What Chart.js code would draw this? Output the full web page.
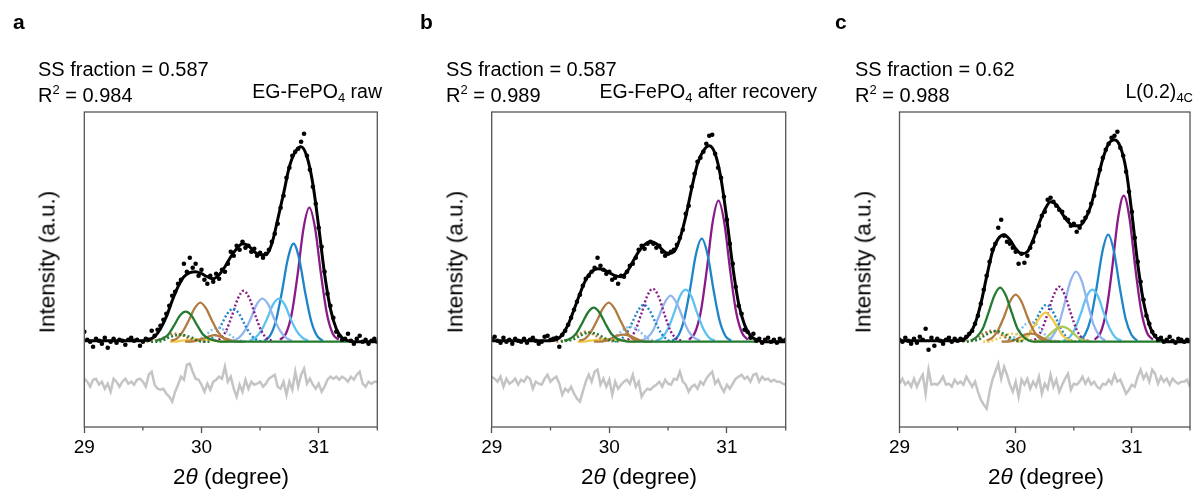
<!DOCTYPE html>
<html><head><meta charset="utf-8">
<script src="https://cdn.jsdelivr.net/npm/chart.js@4.4.0/dist/chart.umd.min.js"></script>
<style>
body{margin:0;width:1194px;height:495px;position:relative;overflow:hidden;background:#fff;font-family:Arial,"Liberation Sans",sans-serif;color:#000}
canvas{position:absolute;top:0}
.t{position:absolute;white-space:nowrap;font-size:20px;line-height:20px}
.lbl{position:absolute;white-space:nowrap;font-size:19.5px;line-height:20px;text-align:right}
.let{position:absolute;font-size:21px;line-height:20px;font-weight:bold}
.sup{font-size:13px;position:relative;top:-8px}
.sub{font-size:13px;position:relative;top:4px}
.yt{position:absolute;white-space:nowrap;font-size:22.5px;line-height:23px;transform:translate(-50%,-50%) rotate(-90deg)}
.xt{position:absolute;white-space:nowrap;font-size:22.5px;line-height:23px;transform:translateX(-50%)}
</style></head><body>
<canvas id="ca" width="400" height="495" style="left:0px"></canvas>
<canvas id="cb" width="410" height="495" style="left:400px"></canvas>
<canvas id="cc" width="384" height="495" style="left:810px"></canvas>

<div class="let" style="left:13px;top:12px">a</div>
<div class="let" style="left:420px;top:12px">b</div>
<div class="let" style="left:835px;top:12px">c</div>

<div class="t" style="left:38px;top:59px">SS fraction = 0.587</div>
<div class="t" style="left:38px;top:85px">R<span class="sup">2</span> = 0.984</div>
<div class="lbl" style="right:812px;top:81px">EG-FePO<span class="sub">4</span> raw</div>

<div class="t" style="left:446px;top:59px">SS fraction = 0.587</div>
<div class="t" style="left:446px;top:85px">R<span class="sup">2</span> = 0.989</div>
<div class="lbl" style="right:377px;top:81px">EG-FePO<span class="sub">4</span> after recovery</div>

<div class="t" style="left:855px;top:59px">SS fraction = 0.62</div>
<div class="t" style="left:855px;top:85px">R<span class="sup">2</span> = 0.988</div>
<div class="lbl" style="right:1px;top:81px">L(0.2)<span class="sub">4C</span></div>

<div class="yt" style="left:47px;top:262px">Intensity (a.u.)</div>
<div class="yt" style="left:455px;top:262px">Intensity (a.u.)</div>
<div class="yt" style="left:863px;top:262px">Intensity (a.u.)</div>

<div class="xt" style="left:231px;top:465px">2<i>θ</i> (degree)</div>
<div class="xt" style="left:639px;top:465px">2<i>θ</i> (degree)</div>
<div class="xt" style="left:1046px;top:465px">2<i>θ</i> (degree)</div>

<script>
// ---------- axis ----------
const xMin = 29, xMax = 31.5;
const yMin = -0.853, yMax = 2.297;
const xTicks = [29, 30, 31];
const xMinorTicks = [29.5, 30.5, 31.5];
const dotStep = 0.025, fitStep = 0.05, compStep = 0.05;

// ---------- panel a ----------
const aDots = [0.10,0.02,0.00,-0.05,0.03,0.01,-0.02,0.04,-0.06,0.00,
 0.03,-0.01,0.02,0.01,-0.03,0.02,0.04,0.01,0.02,-0.04,
 0.00,0.03,0.02,0.11,0.06,0.12,0.16,0.22,0.28,0.36,
 0.46,0.50,0.58,0.62,0.78,0.70,0.84,0.74,0.78,0.66,
 0.72,0.62,0.58,0.66,0.60,0.68,0.63,0.72,0.70,0.78,
 0.90,0.86,0.96,0.92,1.00,0.94,0.96,0.90,0.93,0.86,
 0.89,0.84,0.88,0.92,1.00,1.08,1.18,1.34,1.46,1.64,
 1.74,1.86,1.90,1.93,2.00,2.08,1.86,1.72,1.55,1.38,
 1.14,0.95,0.70,0.48,0.36,0.24,0.10,0.06,0.02,0.03,
 0.08,0.01,-0.02,0.03,0.06,0.00,0.02,-0.02,0.01,0.03,0.00];
const aFit = [0.01,0.01,0.01,0.01,0.01,0.01,0.01,0.01,0.01,0.01,
 0.01,0.02,0.05,0.13,0.25,0.41,0.55,0.65,0.69,0.70,
 0.68,0.65,0.63,0.67,0.75,0.85,0.93,0.98,0.96,0.90,
 0.87,0.87,0.98,1.22,1.48,1.75,1.90,1.95,1.85,1.58,
 1.15,0.68,0.33,0.13,0.04,0.01,0.00,0.00,0.00,0.00,0.00];
const aResid = [-0.37,-0.40,-0.45,-0.38,-0.37,-0.43,-0.40,-0.47,-0.42,-0.50,
 -0.37,-0.40,-0.45,-0.40,-0.37,-0.42,-0.40,-0.43,-0.38,-0.37,
 -0.40,-0.45,-0.33,-0.30,-0.43,-0.47,-0.48,-0.47,-0.52,-0.55,
 -0.60,-0.50,-0.43,-0.35,-0.38,-0.23,-0.22,-0.30,-0.37,-0.38,
 -0.43,-0.50,-0.42,-0.48,-0.40,-0.38,-0.35,-0.37,-0.25,-0.40,
 -0.35,-0.47,-0.55,-0.43,-0.50,-0.38,-0.47,-0.40,-0.43,-0.42,
 -0.40,-0.45,-0.42,-0.37,-0.35,-0.33,-0.45,-0.47,-0.40,-0.53,
 -0.40,-0.48,-0.30,-0.45,-0.33,-0.27,-0.42,-0.37,-0.43,-0.47,
 -0.42,-0.50,-0.45,-0.38,-0.35,-0.37,-0.35,-0.38,-0.35,-0.37,
 -0.40,-0.35,-0.38,-0.33,-0.30,-0.42,-0.45,-0.40,-0.42,-0.40,-0.40];
// components: [start 2θ, values every 0.05°]
const aPurple    = [30.67,  [0.02,0.08,0.28,0.67,1.13,1.34,1.13,0.67,0.28,0.08,0.02]];
const aBlue      = [30.535, [0.01,0.06,0.21,0.49,0.82,0.98,0.82,0.49,0.21,0.06,0.01]];
const aSky       = [30.41,  [0.01,0.04,0.11,0.23,0.37,0.43,0.37,0.23,0.11,0.04,0.01]];
const aLav       = [30.27,  [0.01,0.04,0.11,0.23,0.37,0.43,0.37,0.23,0.11,0.04,0.01]];
const aPurpleDot = [30.11,  [0.01,0.03,0.11,0.26,0.43,0.51,0.43,0.26,0.11,0.03,0.01]];
const aBlueDot   = [30.02,  [0.00,0.02,0.07,0.17,0.28,0.33,0.28,0.17,0.07,0.02,0.00]];
const aSkyDot    = [29.89,  [0.00,0.01,0.03,0.07,0.12,0.14,0.12,0.07,0.03,0.01,0.00]];
const aBrown     = [29.74,  [0.01,0.03,0.10,0.21,0.33,0.39,0.33,0.21,0.10,0.03,0.01]];
const aBrownSm   = [29.86,  [0.00,0.00,0.01,0.03,0.05,0.065,0.05,0.03,0.01,0.00,0.00]];
const aBrownDot  = [29.53,  [0.00,0.01,0.02,0.04,0.07,0.08,0.07,0.04,0.02,0.01,0.00]];
const aGreenDot  = [29.57,  [0.00,0.00,0.01,0.04,0.06,0.07,0.06,0.04,0.01,0.00,0.00]];
const aGold      = [29.73,  [0.00,0.00,0.01,0.015,0.02,0.025,0.02,0.015,0.01,0.00,0.00]];
const aGreen     = [29.615, [0.01,0.03,0.07,0.16,0.26,0.30,0.26,0.16,0.07,0.03,0.01,
 0,0,0,0,0,0,0,0,0,0,0,0,0,0,0,0,0,0,0,0,0,0,0]];

// ---------- panel b ----------
const bDots = [0.03,0.05,0.01,-0.01,0.04,0.00,0.02,-0.02,0.03,0.01,
 0.00,0.03,-0.01,0.02,0.04,0.01,-0.02,0.00,0.05,0.06,
 0.02,0.03,0.04,-0.05,0.07,0.11,0.17,0.24,0.32,0.40,
 0.47,0.56,0.63,0.66,0.70,0.74,0.84,0.76,0.72,0.68,
 0.70,0.62,0.64,0.58,0.66,0.65,0.70,0.76,0.78,0.84,
 0.92,0.96,0.93,0.98,1.00,0.98,0.94,0.96,0.90,0.86,
 0.88,0.90,0.92,0.97,1.04,1.12,1.28,1.36,1.55,1.68,
 1.80,1.84,1.90,1.98,2.06,2.07,1.88,1.74,1.64,1.45,
 1.22,0.98,0.78,0.55,0.36,0.28,0.12,0.10,0.04,0.08,
 0.01,0.03,-0.01,0.02,0.04,0.00,0.02,-0.01,0.03,0.01,0.02];
const bFit = [0.01,0.01,0.01,0.01,0.01,0.01,0.01,0.01,0.01,0.01,
 0.01,0.02,0.07,0.17,0.32,0.48,0.62,0.70,0.73,0.72,
 0.69,0.66,0.65,0.70,0.80,0.90,0.97,1.00,0.98,0.92,
 0.88,0.90,1.03,1.25,1.53,1.78,1.91,1.96,1.88,1.63,
 1.22,0.75,0.38,0.17,0.06,0.02,0.00,0.00,0.00,0.00,0.00];
const bResid = [-0.35,-0.37,-0.40,-0.35,-0.45,-0.37,-0.42,-0.40,-0.37,-0.43,
 -0.38,-0.40,-0.35,-0.37,-0.47,-0.40,-0.42,-0.43,-0.37,-0.33,
 -0.40,-0.37,-0.35,-0.42,-0.53,-0.47,-0.50,-0.45,-0.52,-0.57,
 -0.60,-0.50,-0.40,-0.33,-0.40,-0.30,-0.28,-0.43,-0.37,-0.45,
 -0.38,-0.53,-0.40,-0.47,-0.43,-0.40,-0.38,-0.42,-0.33,-0.45,
 -0.40,-0.55,-0.50,-0.47,-0.48,-0.45,-0.43,-0.40,-0.45,-0.38,
 -0.42,-0.43,-0.37,-0.38,-0.30,-0.40,-0.43,-0.50,-0.45,-0.43,
 -0.47,-0.40,-0.43,-0.37,-0.33,-0.30,-0.42,-0.38,-0.45,-0.50,
 -0.43,-0.47,-0.42,-0.37,-0.35,-0.33,-0.37,-0.35,-0.40,-0.33,
 -0.32,-0.40,-0.35,-0.38,-0.37,-0.40,-0.38,-0.40,-0.40,-0.42,-0.43];
const bPurple    = [30.678, [0.02,0.09,0.30,0.71,1.19,1.41,1.19,0.71,0.30,0.09,0.02]];
const bBlue      = [30.536, [0.01,0.06,0.22,0.52,0.87,1.03,0.87,0.52,0.22,0.06,0.01]];
const bSky       = [30.399, [0.01,0.04,0.13,0.28,0.45,0.52,0.45,0.28,0.13,0.04,0.01]];
const bLav       = [30.271, [0.01,0.04,0.11,0.25,0.39,0.46,0.39,0.25,0.11,0.04,0.01]];
const bPurpleDot = [30.12,  [0.01,0.03,0.11,0.27,0.45,0.53,0.45,0.27,0.11,0.03,0.01]];
const bBlueDot   = [30.044, [0.00,0.02,0.08,0.19,0.31,0.37,0.31,0.19,0.08,0.02,0.00]];
const bSkyDot    = [29.93,  [0.00,0.01,0.03,0.08,0.13,0.15,0.13,0.08,0.03,0.01,0.00]];
const bBrown     = [29.745, [0.01,0.03,0.10,0.21,0.33,0.39,0.33,0.21,0.10,0.03,0.01]];
const bBrownSm   = [29.87,  [0.00,0.00,0.01,0.035,0.06,0.07,0.06,0.035,0.01,0.00,0.00]];
const bBrownDot  = [29.55,  [0.00,0.01,0.02,0.05,0.08,0.10,0.08,0.05,0.02,0.01,0.00]];
const bGreenDot  = [29.59,  [0.00,0.01,0.02,0.05,0.08,0.09,0.08,0.05,0.02,0.01,0.00]];
const bGold      = [29.73,  [0.00,0.00,0.01,0.015,0.02,0.025,0.02,0.015,0.01,0.00,0.00]];
const bGreen     = [29.617, [0.01,0.03,0.08,0.18,0.29,0.34,0.29,0.18,0.08,0.03,0.01,
 0,0,0,0,0,0,0,0,0,0,0,0,0,0,0,0,0,0,0,0,0,0,0]];

// ---------- panel c ----------
const cDots = [0.02,0.00,0.04,0.01,-0.02,0.03,-0.01,0.05,0.02,0.13,
 -0.08,0.04,-0.04,0.03,0.01,-0.02,0.02,0.04,0.00,0.03,
 0.01,0.03,0.02,0.05,0.08,0.11,0.18,0.26,0.38,0.52,
 0.66,0.80,0.92,0.98,1.14,1.22,1.06,1.00,0.98,0.94,
 0.90,0.78,0.88,0.79,0.86,0.94,1.00,1.10,1.16,1.26,
 1.30,1.42,1.44,1.40,1.36,1.32,1.30,1.24,1.22,1.16,
 1.18,1.10,1.14,1.20,1.24,1.30,1.38,1.46,1.58,1.72,
 1.84,1.92,1.98,2.04,2.06,2.10,1.94,1.86,1.70,1.50,
 1.30,1.04,0.80,0.60,0.42,0.26,0.18,0.10,0.06,0.02,
 0.04,0.00,0.02,0.05,0.01,-0.01,0.03,0.02,0.00,0.02,0.01];
const cFit = [0.01,0.01,0.01,0.01,0.01,0.01,0.01,0.01,0.01,0.01,
 0.01,0.02,0.07,0.18,0.38,0.65,0.90,1.03,1.07,1.02,
 0.93,0.88,0.90,1.02,1.18,1.32,1.40,1.37,1.28,1.20,
 1.16,1.16,1.23,1.37,1.60,1.83,1.98,2.02,1.95,1.72,
 1.28,0.78,0.40,0.17,0.05,0.02,0.00,0.00,0.00,0.00,0.00];
const cResid = [-0.42,-0.37,-0.43,-0.40,-0.45,-0.37,-0.45,-0.38,-0.33,-0.52,
 -0.28,-0.43,-0.42,-0.43,-0.40,-0.35,-0.43,-0.42,-0.45,-0.38,
 -0.42,-0.40,-0.43,-0.35,-0.40,-0.45,-0.40,-0.50,-0.58,-0.63,
 -0.67,-0.50,-0.38,-0.30,-0.22,-0.37,-0.25,-0.33,-0.43,-0.50,
 -0.40,-0.55,-0.38,-0.43,-0.37,-0.47,-0.40,-0.45,-0.35,-0.52,
 -0.42,-0.47,-0.33,-0.45,-0.38,-0.50,-0.43,-0.37,-0.32,-0.48,
 -0.42,-0.43,-0.40,-0.35,-0.42,-0.37,-0.43,-0.40,-0.45,-0.47,
 -0.42,-0.43,-0.38,-0.42,-0.33,-0.40,-0.38,-0.45,-0.52,-0.48,
 -0.43,-0.45,-0.35,-0.28,-0.37,-0.32,-0.40,-0.28,-0.32,-0.42,
 -0.35,-0.40,-0.37,-0.43,-0.37,-0.40,-0.42,-0.40,-0.40,-0.38,-0.45];
const cPurple    = [30.68,  [0.02,0.09,0.31,0.73,1.23,1.46,1.23,0.73,0.31,0.09,0.02]];
const cBlue      = [30.546, [0.01,0.07,0.23,0.54,0.90,1.07,0.90,0.54,0.23,0.07,0.01]];
const cSky       = [30.41,  [0.01,0.04,0.13,0.28,0.45,0.52,0.45,0.28,0.13,0.04,0.01]];
const cLav       = [30.27,  [0.01,0.06,0.17,0.38,0.60,0.70,0.60,0.38,0.17,0.06,0.01]];
const cPurpleDot = [30.125, [0.01,0.03,0.12,0.28,0.46,0.55,0.46,0.28,0.12,0.03,0.01]];
const cBlueDot   = [30.015, [0.00,0.02,0.08,0.19,0.31,0.37,0.31,0.19,0.08,0.02,0.00]];
const cGoldPk    = [30.006, [0.00,0.02,0.06,0.15,0.24,0.29,0.24,0.15,0.06,0.02,0.00]];
const cLime      = [30.15,  [0.00,0.01,0.03,0.08,0.13,0.15,0.13,0.08,0.03,0.01,0.00]];
const cSkyDot    = [29.88,  [0.00,0.01,0.04,0.10,0.17,0.20,0.17,0.10,0.04,0.01,0.00]];
const cBrown     = [29.75,  [0.01,0.04,0.12,0.25,0.40,0.47,0.40,0.25,0.12,0.04,0.01]];
const cBrownSm   = [29.88,  [0.00,0.00,0.01,0.04,0.07,0.08,0.07,0.04,0.01,0.00,0.00]];
const cBrownDot  = [29.54,  [0.00,0.01,0.02,0.06,0.09,0.11,0.09,0.06,0.02,0.01,0.00]];
const cGreenDot  = [29.58,  [0.00,0.01,0.02,0.06,0.09,0.11,0.09,0.06,0.02,0.01,0.00]];
const cGoldDot   = [29.72,  [0.00,0.00,0.02,0.04,0.07,0.08,0.07,0.04,0.02,0.00,0.00]];
const cGreen     = [29.616, [0.01,0.05,0.13,0.29,0.46,0.54,0.46,0.29,0.13,0.05,0.01,
 0,0,0,0,0,0,0,0,0,0,0,0,0,0,0,0,0,0,0,0,0,0,0]];

// ---------- styles ----------
const compStyle = {
  purple:['#8b1a89',false], purpleDot:['#8b1a89',true],
  blue:['#1d85c8',false], blueDot:['#1d85c8',true],
  sky:['#5cc2f0',false], skyDot:['#80bff0',true],
  lav:['#93b5ee',false],
  brown:['#b27b40',false], brownDot:['#b27b40',true],
  green:['#237a30',false], greenDot:['#237a30',true],
  gold:['#f4c84a',false], goldDot:['#f4c84a',true],
  lime:['#a9c953',false]
};

const aComps = [['green',aGreen],['greenDot',aGreenDot],['brownDot',aBrownDot],['brown',aBrown],['brown',aBrownSm],['gold',aGold],
  ['skyDot',aSkyDot],['blueDot',aBlueDot],['purpleDot',aPurpleDot],['lav',aLav],['sky',aSky],['blue',aBlue],['purple',aPurple]];
const bComps = [['green',bGreen],['greenDot',bGreenDot],['brownDot',bBrownDot],['brown',bBrown],['brown',bBrownSm],['gold',bGold],
  ['skyDot',bSkyDot],['blueDot',bBlueDot],['purpleDot',bPurpleDot],['lav',bLav],['sky',bSky],['blue',bBlue],['purple',bPurple]];
const cComps = [['green',cGreen],['greenDot',cGreenDot],['brownDot',cBrownDot],['goldDot',cGoldDot],['brown',cBrown],['brown',cBrownSm],
  ['lime',cLime],['gold',cGoldPk],['skyDot',cSkyDot],['blueDot',cBlueDot],['purpleDot',cPurpleDot],['lav',cLav],['sky',cSky],['blue',cBlue],['purple',cPurple]];

function seq(start, step, vals){ return vals.map((v,i)=>({x:+(start+i*step).toFixed(4), y:v})); }

const framePlugin = {
  id:'frame',
  afterDraw(chart){
    const {ctx, chartArea:a, scales:{x}} = chart;
    ctx.save();
    ctx.strokeStyle = '#555'; ctx.lineWidth = 1.3;
    ctx.strokeRect(a.left, a.top, a.right-a.left, a.bottom-a.top);
    xMinorTicks.forEach(v=>{
      const px = x.getPixelForValue(v);
      ctx.beginPath(); ctx.moveTo(px, a.bottom); ctx.lineTo(px, a.bottom+3.5); ctx.stroke();
    });
    ctx.restore();
  }
};

function makeChart(id, padL, padR, dots, fit, resid, comps){
  const ds = [];
  ds.push({type:'scatter', data:seq(xMin, dotStep, dots), showLine:false, pointRadius:2.3, pointBackgroundColor:'#000', pointBorderWidth:0});
  ds.push({type:'line', data:seq(xMin, fitStep, fit), borderColor:'#000', borderWidth:3, pointRadius:0, cubicInterpolationMode:'monotone'});
  comps.forEach(([key, c])=>{
    const [col, dotted] = compStyle[key];
    ds.push({type:'line', data:seq(c[0], compStep, c[1]), borderColor:col, borderWidth:dotted?2.4:2.3,
      borderDash: dotted?[2,2.2]:[], pointRadius:0, cubicInterpolationMode:'monotone'});
  });
  ds.push({type:'line', data:seq(xMin, dotStep, resid), borderColor:'#c4c4c4', borderWidth:2.5, pointRadius:0, tension:0});
  return new Chart(document.getElementById(id), {
    type:'scatter',
    data:{datasets:ds},
    options:{
      responsive:false, animation:false, devicePixelRatio:1,
      layout:{padding:{left:padL, right:padR, top:112, bottom:0}},
      plugins:{legend:{display:false}, tooltip:{enabled:false}},
      scales:{
        x:{type:'linear', min:xMin, max:xMax,
          afterBuildTicks:s=>{ s.ticks = xTicks.map(v=>({value:v})); },
          afterFit:s=>{ s.height = 68; },
          ticks:{color:'#000', font:{family:'Arial, "Liberation Sans", sans-serif', size:19}, padding:3, maxRotation:0},
          grid:{display:true, drawOnChartArea:false, drawTicks:true, tickLength:6, tickColor:'#555', tickWidth:1.3},
          border:{display:false}},
        y:{type:'linear', min:yMin, max:yMax, display:false}
      }
    },
    plugins:[framePlugin]
  });
}

makeChart('ca', 84.3, 22.7, aDots, aFit, aResid, aComps);
makeChart('cb', 91.7, 24.3, bDots, bFit, bResid, bComps);
makeChart('cc', 89.5, 1.5, cDots, cFit, cResid, cComps);
</script>
</body></html>
